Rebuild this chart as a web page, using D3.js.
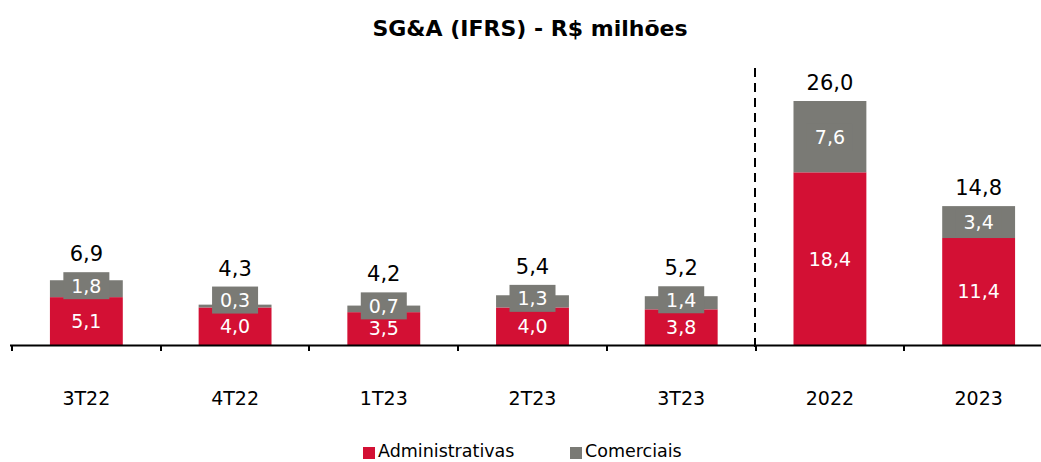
<!DOCTYPE html>
<html><head><meta charset="utf-8">
<script src="https://cdn.jsdelivr.net/npm/d3@7"></script>
<style>
body{margin:0;background:#fff;}
svg text{font-family:"DejaVu Sans",Verdana,sans-serif;}
</style></head>
<body>
<svg id="chart" width="1041" height="462"></svg>
<script>
const categories = ["3T22","4T22","1T23","2T23","3T23","2022","2023"];
const administrativas = [5.1, 4.0, 3.5, 4.0, 3.8, 18.4, 11.4];
const comerciais = [1.8, 0.3, 0.7, 1.3, 1.4, 7.6, 3.4];
const totals = [6.9, 4.3, 4.2, 5.4, 5.2, 26.0, 14.8];
const seriesNames = ["Administrativas","Comerciais"];
const colors = ["#d31034","#7a7a75"];
const title = "SG&A (IFRS) - R$ milhões";

const svg = d3.select("#chart");
const baseY = 345;
const x = d3.scaleBand().domain(categories).range([12,1053]).paddingInner(0.51).paddingOuter(0.255);
const y = d3.scaleLinear().domain([0,26]).range([baseY,101]);
const fmt = v => v.toFixed(1).replace(".", ",");

svg.append("text").attr("x",530).attr("y",36).attr("text-anchor","middle")
  .attr("font-weight","bold").attr("font-size",22).attr("fill","#000").text(title);

const g = svg.append("g");
categories.forEach((c,i)=>{
  const x0 = x(c), w = x.bandwidth();
  const a = administrativas[i], b = comerciais[i];
  const redTop = y(a), grayTop = y(a+b);
  g.append("rect").attr("x",x0).attr("y",redTop).attr("width",w).attr("height",baseY-redTop).attr("fill",colors[0]);
  g.append("rect").attr("x",x0).attr("y",grayTop).attr("width",w).attr("height",redTop-grayTop).attr("fill",colors[1]);
  const cx = x0 + w/2;
  const redMid = (redTop+baseY)/2;
  g.append("text").attr("x",cx).attr("y",redMid).attr("dy","0.36em").attr("text-anchor","middle")
    .attr("fill","#fff").attr("font-size",19).text(fmt(a));
  const segH = redTop-grayTop;
  const off = segH < 5 ? -6 : (segH < 25 ? -3 : 0);
  const gMid = (grayTop+redTop)/2 + off;
  const bw = 46, bh = 27;
  g.append("rect").attr("x",cx-bw/2).attr("y",gMid-bh/2).attr("width",bw).attr("height",bh).attr("fill",colors[1]);
  g.append("text").attr("x",cx).attr("y",gMid).attr("dy","0.36em").attr("text-anchor","middle")
    .attr("fill","#fff").attr("font-size",19).text(fmt(b));
  const topEdge = Math.min(grayTop, gMid-bh/2);
  g.append("text").attr("x",cx).attr("y",topEdge-11).attr("text-anchor","middle")
    .attr("fill","#000").attr("font-size",21).text(fmt(totals[i]));
  g.append("text").attr("x",cx).attr("y",405).attr("text-anchor","middle")
    .attr("fill","#000").attr("font-size",19).text(c);
});

const step = x.step();
svg.append("line").attr("x1",10).attr("x2",1041).attr("y1",baseY+0.5).attr("y2",baseY+0.5).attr("stroke","#000").attr("stroke-width",2);
for(let i=0;i<=categories.length;i++){
  const tx = Math.round(12 + i*step);
  svg.append("line").attr("x1",tx).attr("x2",tx).attr("y1",baseY).attr("y2",baseY+6).attr("stroke","#000").attr("stroke-width",2);
}
const sepX = Math.round(12 + 5*step) - 1;
svg.append("line").attr("x1",sepX).attr("x2",sepX).attr("y1",68).attr("y2",351)
  .attr("stroke","#000").attr("stroke-width",2).attr("stroke-dasharray","9,6");

const legX = [363, 570];
seriesNames.forEach((n,i)=>{
  svg.append("rect").attr("x",legX[i]).attr("y",447).attr("width",12).attr("height",12).attr("fill",colors[i]);
  svg.append("text").attr("x",legX[i]+15).attr("y",457).attr("font-size",17.5).attr("fill","#000").text(n);
});
</script>
</body></html>
